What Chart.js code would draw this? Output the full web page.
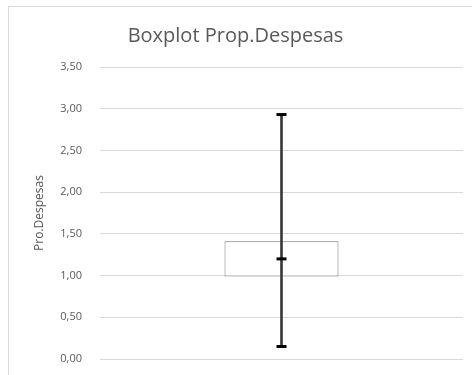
<!DOCTYPE html>
<html>
<head>
<meta charset="utf-8">
<script src="https://cdn.jsdelivr.net/npm/chart.js@4"></script>
<style>
  html, body { margin: 0; padding: 0; background: #fff; overflow: hidden; }
  #frame {
    position: absolute; left: 8px; top: 6px; width: 478px; height: 369px;
    border-left: 1px solid #d9d9d9; border-top: 1px solid #d9d9d9; box-sizing: border-box;
  }
  #wrap { position: absolute; left: 8px; top: 6px; width: 478px; height: 369px; }
</style>
</head>
<body>
<div id="frame"></div>
<div id="wrap"><canvas id="c"></canvas></div>
<script>
// Boxplot summary
const categories = [''];
const boxRange = [[0.99, 1.41]];   // Q1 .. Q3
const whiskerRange = [[0.15, 2.93]]; // min .. max
const medians = [1.2];
const mins = [0.15];
const maxs = [2.93];
const yTicks = [0, 0.5, 1, 1.5, 2, 2.5, 3, 3.5];

const grey = '#595959';
const font = "'Open Sans', Lato, sans-serif";

const capStyle = {
  type: 'line',
  showLine: false,
  pointStyle: 'line',
  pointRadius: 5,
  pointHoverRadius: 5,
  borderWidth: 3,
  borderColor: '#000',
  backgroundColor: '#000',
};

new Chart(document.getElementById('c'), {
  data: {
    labels: categories,
    datasets: [
      {
        type: 'bar',
        label: 'box',
        data: boxRange,
        backgroundColor: 'rgba(255,255,255,1)',
        borderColor: '#767676',
        borderWidth: 1,
        borderSkipped: false,
        grouped: false,
        categoryPercentage: 1,
        barPercentage: 0.314,
        order: 3,
      },
      {
        type: 'bar',
        label: 'whisker',
        data: whiskerRange,
        backgroundColor: '#3a3a3a',
        borderWidth: 0,
        grouped: false,
        barThickness: 2,
        order: 2,
      },
      Object.assign({ label: 'median', data: medians, order: 1 }, capStyle),
      Object.assign({ label: 'min', data: mins, order: 1 }, capStyle),
      Object.assign({ label: 'max', data: maxs, order: 1 }, capStyle),
    ],
  },
  options: {
    responsive: true,
    maintainAspectRatio: false,
    animation: false,
    layout: { padding: { left: 0, right: 23, top: 0, bottom: 16 } },
    plugins: {
      legend: { display: false },
      tooltip: { enabled: false },
      title: {
        display: true,
        text: 'Boxplot Prop.Despesas',
        color: grey,
        font: { family: font, size: 20, weight: 'normal' },
        padding: { top: 18, bottom: 19 },
      },
    },
    scales: {
      x: { display: false },
      y: {
        min: 0,
        max: 3.5,
        afterBuildTicks: (s) => { s.ticks = yTicks.map((v) => ({ value: v })); },
        afterFit: (s) => { s.width = 92; s.paddingBottom = 16; s.paddingTop = 6; },
        grid: { color: '#d9d9d9', drawTicks: false },
        border: { display: false },
        ticks: {
          color: grey,
          padding: 18,
          font: { family: font, size: 11 },
          callback: (v) => v.toFixed(2).replace('.', ','),
        },
        title: {
          display: true,
          text: 'Pro.Despesas',
          color: grey,
          font: { family: font, size: 12 },
          padding: { top: 24, bottom: 0 },
        },
      },
    },
  },
});
</script>
</body>
</html>
